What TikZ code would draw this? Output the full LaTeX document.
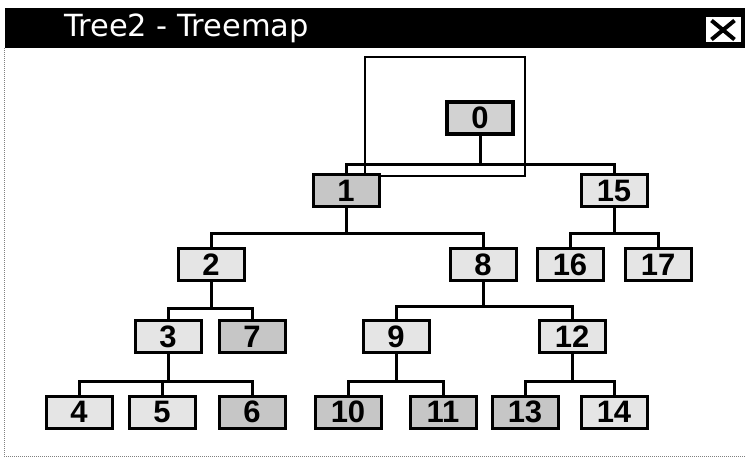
\documentclass[tikz,border=0pt]{standalone}
\usepackage{fontspec}
\setmainfont{Liberation Sans}
\newfontfamily\titlefont{DejaVu Sans}
\usetikzlibrary{calc}

\begin{document}
\begin{tikzpicture}[
    x=1pt, y=-1pt,
    tnode/.style={draw, line width=3pt, fill=gray!20, minimum width=66pt, minimum height=32pt, inner sep=0pt, font=\fontsize{31}{31}\selectfont\bfseries},
    darknode/.style={tnode, fill=gray!45},
    rootnode/.style={tnode, fill=gray!35, line width=4.5pt},
    link/.style={line width=3pt}
]
\useasboundingbox (0,0) rectangle (745,465);

% window title bar
\fill[black] (5,8) rectangle (745,48);
\node[anchor=base west, text=white, inner sep=0pt, font=\titlefont\fontsize{30.5}{30.5}\selectfont] (title) at (64,37) {Tree2 - Treemap};
\node[draw, fill=white, line width=1pt, minimum width=36pt, minimum height=26pt, inner sep=0pt] (close) at (723,30) {};
\draw[line width=4pt] ($(close.north west)+(7,4)$) -- ($(close.south east)+(-7,-4)$);
\draw[line width=4pt] ($(close.south west)+(7,-4)$) -- ($(close.north east)+(-7,4)$);
\draw[gray, densely dotted, line width=1pt] (4,48) -- (4,456) -- (745,456);

% frame round the root
\draw[line width=2.5pt] (365,57) rectangle (525,176);

% tree nodes
\node[rootnode] (n0)  at (480,118) {0};
\node[darknode] (n1)  at (346,191) {1};
\node[tnode]    (n15) at (614,191) {15};
\node[tnode]    (n2)  at (211,265) {2};
\node[tnode]    (n8)  at (483,265) {8};
\node[tnode]    (n16) at (570,265) {16};
\node[tnode]    (n17) at (658,265) {17};
\node[tnode]    (n3)  at (168,337) {3};
\node[darknode] (n7)  at (252,337) {7};
\node[tnode]    (n9)  at (396,337) {9};
\node[tnode]    (n12) at (572,337) {12};
\node[tnode]    (n4)  at (79,412)  {4};
\node[tnode]    (n5)  at (162,412) {5};
\node[darknode] (n6)  at (252,412) {6};
\node[darknode] (n10) at (348,412) {10};
\node[darknode] (n11) at (443,412) {11};
\node[darknode] (n13) at (525,412) {13};
\node[tnode]    (n14) at (614,412) {14};

% links
\draw[link] (n0.south)  -- ++(0,28) -| (n1.north);
\draw[link] (n0.south)  -- ++(0,28) -| (n15.north);
\draw[link] (n1.south)  -- ++(0,25) -| (n2.north);
\draw[link] (n1.south)  -- ++(0,25) -| (n8.north);
\draw[link] (n15.south) -- ++(0,25) -| (n16.north);
\draw[link] (n15.south) -- ++(0,25) -| (n17.north);
\draw[link] (n2.south)  -- ++(0,26) -| (n3.north);
\draw[link] (n2.south)  -- ++(0,26) -| (n7.north);
\draw[link] (n8.south)  -- ++(0,24) -| (n9.north);
\draw[link] (n8.south)  -- ++(0,24) -| (n12.north);
\draw[link] (n3.south)  -- ++(0,27) -| (n4.north);
\draw[link] (n3.south)  -- ++(0,27) -| (n5.north);
\draw[link] (n3.south)  -- ++(0,27) -| (n6.north);
\draw[link] (n9.south)  -- ++(0,27) -| (n10.north);
\draw[link] (n9.south)  -- ++(0,27) -| (n11.north);
\draw[link] (n12.south) -- ++(0,27) -| (n13.north);
\draw[link] (n12.south) -- ++(0,27) -| (n14.north);
\end{tikzpicture}
\end{document}
